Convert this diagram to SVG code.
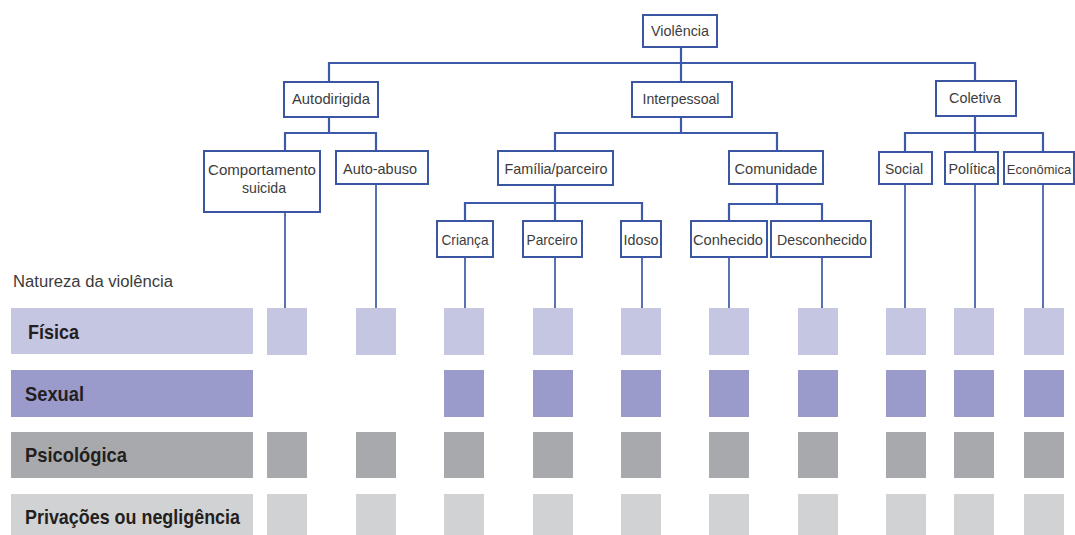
<svg xmlns="http://www.w3.org/2000/svg" width="1075" height="535" viewBox="0 0 1075 535">
<style>
.box{fill:#fff;stroke:#3a55a2;stroke-width:2}
.lbl{font-family:"Liberation Sans",Arial,sans-serif;font-size:15px;fill:#3c3c3c;text-anchor:middle}
.con{stroke:#3d5aa8;stroke-width:2.2;fill:none;stroke-linecap:square}
.leaf{stroke:#3d5aa8;stroke-width:1.7;fill:none}
.row{font-family:"Liberation Sans",Arial,sans-serif;font-size:21px;font-weight:bold;fill:#231f20}
.fis{fill:#c5c6e2}.sex{fill:#9a9acb}.psi{fill:#a8a9ac}.pri{fill:#d1d2d4}
</style>
<g id="connectors">
<path class="con" d="M681 47V63M329 63H975M329 63V82M681 63V82M975 63V81"/>
<path class="con" d="M329 117V133M285 133H376M285 133V151M376 133V151"/>
<path class="con" d="M681 117V133M555 133H777M555 133V151M777 133V151"/>
<path class="con" d="M975 116V133M905 133H1043M905 133V152M975 133V152M1043 133V152"/>
<path class="con" d="M555 185V203M465 203H642M465 203V221M555 203V221M642 203V221"/>
<path class="con" d="M777 184V204M729 204H822M729 204V221M822 204V221"/>
<path class="leaf" d="M285 212V308M376 184V308M465 257V308M555 257V308M642 257V308M729 257V308M822 257V308M905 184V308M975 184V308M1043 184V308"/>
</g>
<g id="violencia"><rect class="box" x="643" y="15" width="74" height="32"/><text class="lbl" x="680" y="36" textLength="58" lengthAdjust="spacingAndGlyphs">Violência</text></g>
<g id="autodirigida"><rect class="box" x="284" y="82" width="94" height="35"/><text class="lbl" x="331" y="104" textLength="78" lengthAdjust="spacingAndGlyphs">Autodirigida</text></g>
<g id="interpessoal"><rect class="box" x="632" y="82" width="100" height="35"/><text class="lbl" x="681" y="104" textLength="77" lengthAdjust="spacingAndGlyphs">Interpessoal</text></g>
<g id="coletiva"><rect class="box" x="936" y="81" width="80" height="35"/><text class="lbl" x="975" y="103" textLength="52" lengthAdjust="spacingAndGlyphs">Coletiva</text></g>
<g id="comportamento"><rect class="box" x="204" y="151" width="116" height="61"/><text class="lbl" x="262" y="175" textLength="108" lengthAdjust="spacingAndGlyphs">Comportamento</text><text class="lbl" x="264" y="193" textLength="44" lengthAdjust="spacingAndGlyphs">suicida</text></g>
<g id="autoabuso"><rect class="box" x="336" y="151" width="92" height="33"/><text class="lbl" x="380" y="174" textLength="74" lengthAdjust="spacingAndGlyphs">Auto-abuso</text></g>
<g id="familia"><rect class="box" x="498" y="151" width="115" height="34"/><text class="lbl" x="556" y="174" textLength="103" lengthAdjust="spacingAndGlyphs">Família/parceiro</text></g>
<g id="comunidade"><rect class="box" x="729" y="151" width="94" height="33"/><text class="lbl" x="776" y="174" textLength="83" lengthAdjust="spacingAndGlyphs">Comunidade</text></g>
<g id="social"><rect class="box" x="879" y="152" width="53" height="32"/><text class="lbl" x="904" y="174" textLength="38" lengthAdjust="spacingAndGlyphs">Social</text></g>
<g id="politica"><rect class="box" x="945" y="152" width="53" height="32"/><text class="lbl" x="972" y="174" textLength="47" lengthAdjust="spacingAndGlyphs">Política</text></g>
<g id="economica"><rect class="box" x="1004" y="152" width="70" height="32"/><text class="lbl" x="1039" y="174" style="font-size:13px">Econômica</text></g>
<g id="crianca"><rect class="box" x="437" y="221" width="56" height="36"/><text class="lbl" x="465" y="245" textLength="47" lengthAdjust="spacingAndGlyphs">Criança</text></g>
<g id="parceiro"><rect class="box" x="523" y="221" width="59" height="36"/><text class="lbl" x="552" y="245" textLength="51" lengthAdjust="spacingAndGlyphs">Parceiro</text></g>
<g id="idoso"><rect class="box" x="621" y="221" width="40" height="36"/><text class="lbl" x="641" y="245" textLength="35" lengthAdjust="spacingAndGlyphs">Idoso</text></g>
<g id="conhecido"><rect class="box" x="691" y="221" width="76" height="36"/><text class="lbl" x="728" y="245" textLength="70" lengthAdjust="spacingAndGlyphs">Conhecido</text></g>
<g id="desconhecido"><rect class="box" x="771" y="221" width="100" height="36"/><text class="lbl" x="822" y="245" textLength="90" lengthAdjust="spacingAndGlyphs">Desconhecido</text></g>
<g id="natureza">
<text x="13" y="287" style="font-family:'Liberation Sans',Arial,sans-serif;font-size:16px;fill:#3c3c3c" textLength="160" lengthAdjust="spacingAndGlyphs">Natureza da violência</text>
<rect class="fis" x="11" y="308" width="242" height="46"/>
<rect class="sex" x="11" y="370" width="242" height="47"/>
<rect class="psi" x="11" y="432" width="242" height="46"/>
<rect class="pri" x="11" y="494" width="242" height="46"/>
<text class="row" x="28" y="339" textLength="51" lengthAdjust="spacingAndGlyphs">Física</text>
<text class="row" x="25" y="401" textLength="59" lengthAdjust="spacingAndGlyphs">Sexual</text>
<text class="row" x="25" y="462" textLength="102" lengthAdjust="spacingAndGlyphs">Psicológica</text>
<text class="row" x="25" y="524" textLength="215" lengthAdjust="spacingAndGlyphs">Privações ou negligência</text>
</g>
<g id="matrix">
<g class="fis"><rect x="267" y="308" width="40" height="47"/><rect x="356" y="308" width="40" height="47"/><rect x="444" y="308" width="40" height="47"/><rect x="533" y="308" width="40" height="47"/><rect x="621" y="308" width="40" height="47"/><rect x="709" y="308" width="40" height="47"/><rect x="798" y="308" width="40" height="47"/><rect x="886" y="308" width="40" height="47"/><rect x="954" y="308" width="40" height="47"/><rect x="1024" y="308" width="40" height="47"/></g>
<g class="sex"><rect x="444" y="370" width="40" height="47"/><rect x="533" y="370" width="40" height="47"/><rect x="621" y="370" width="40" height="47"/><rect x="709" y="370" width="40" height="47"/><rect x="798" y="370" width="40" height="47"/><rect x="886" y="370" width="40" height="47"/><rect x="954" y="370" width="40" height="47"/><rect x="1024" y="370" width="40" height="47"/></g>
<g class="psi"><rect x="267" y="432" width="40" height="46"/><rect x="356" y="432" width="40" height="46"/><rect x="444" y="432" width="40" height="46"/><rect x="533" y="432" width="40" height="46"/><rect x="621" y="432" width="40" height="46"/><rect x="709" y="432" width="40" height="46"/><rect x="798" y="432" width="40" height="46"/><rect x="886" y="432" width="40" height="46"/><rect x="954" y="432" width="40" height="46"/><rect x="1024" y="432" width="40" height="46"/></g>
<g class="pri"><rect x="267" y="494" width="40" height="46"/><rect x="356" y="494" width="40" height="46"/><rect x="444" y="494" width="40" height="46"/><rect x="533" y="494" width="40" height="46"/><rect x="621" y="494" width="40" height="46"/><rect x="709" y="494" width="40" height="46"/><rect x="798" y="494" width="40" height="46"/><rect x="886" y="494" width="40" height="46"/><rect x="954" y="494" width="40" height="46"/><rect x="1024" y="494" width="40" height="46"/></g>
</g>
</svg>
